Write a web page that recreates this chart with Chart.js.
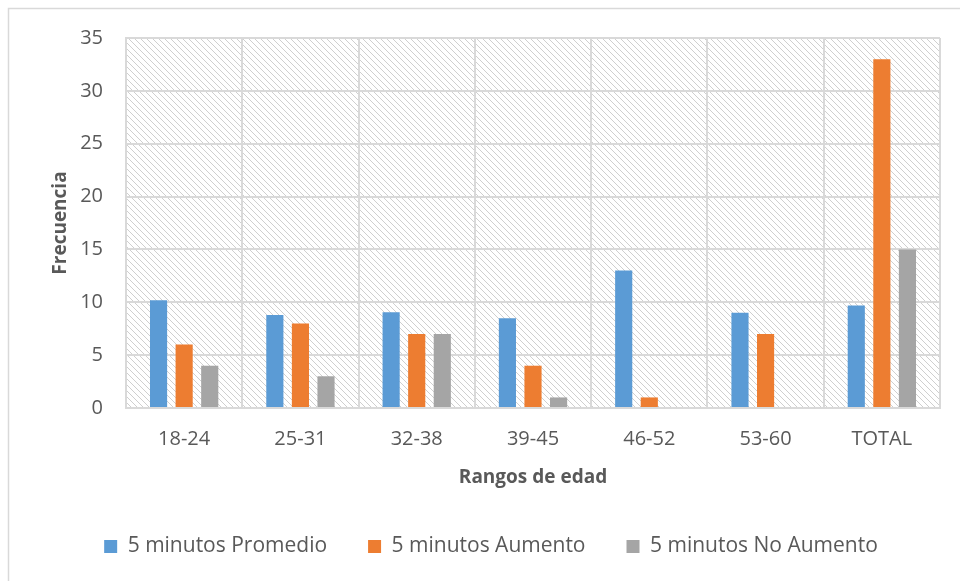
<!DOCTYPE html>
<html>
<head>
<meta charset="utf-8">
<script src="https://cdn.jsdelivr.net/npm/chart.js@4/dist/chart.umd.min.js"></script>
<style>
  html, body { margin: 0; padding: 0; background: #ffffff; }
  #wrap { width: 960px; height: 581px; position: relative; }
</style>
</head>
<body>
<div id="wrap"><canvas id="c" width="960" height="581"></canvas></div>
<script>
const categories = ['18-24', '25-31', '32-38', '39-45', '46-52', '53-60', 'TOTAL'];
const seriesNames = ['5 minutos Promedio', '5 minutos Aumento', '5 minutos No Aumento'];
const promedio = [10.2, 8.8, 9.05, 8.5, 13, 9, 9.7];
const aumento = [6, 8, 7, 4, 1, 7, 33];
const noAumento = [4, 3, 7, 1, 0, 0, 15];
const yTicks = [0, 5, 10, 15, 20, 25, 30, 35];
const xTitle = 'Rangos de edad';
const yTitle = 'Frecuencia';

const FONT = "'Open Sans', 'DejaVu Sans', sans-serif";
const TEXT = '#595959';
const GRID = '#d9d9d9';

function makePattern() {
  const t = document.createElement('canvas');
  t.width = 6; t.height = 6;
  const g = t.getContext('2d');
  g.fillStyle = '#ffffff';
  g.fillRect(0, 0, 6, 6);
  g.fillStyle = '#cfcfcf';
  for (let y = 0; y < 6; y++) {
    for (let x = 0; x < 6; x++) {
      const d = ((x - y) % 6 + 6) % 6;
      if (d === 0) g.fillRect(x, y, 1, 1);
    }
  }
  return document.getElementById('c').getContext('2d').createPattern(t, 'repeat');
}
const hatch = makePattern();

const bgPlugin = {
  id: 'bg',
  beforeLayout(chart) {
    const lg = chart.legend;
    if (lg && !lg._fixedH) {
      const f = lg.fit;
      lg.fit = function () { f.call(this); this.height = 86; };
      lg._fixedH = true;
    }
  },
  beforeDraw(chart) {
    const ctx = chart.ctx;
    const a = chart.chartArea;
    ctx.save();
    ctx.fillStyle = '#ffffff';
    ctx.fillRect(0, 0, chart.width, chart.height);
    ctx.strokeStyle = GRID;
    ctx.lineWidth = 1.5;
    ctx.strokeRect(8.5, 8.5, 2000, 2000);
    ctx.fillStyle = hatch;
    ctx.fillRect(a.left, a.top, a.right - a.left, a.bottom - a.top);
    ctx.restore();
  }
};

new Chart(document.getElementById('c'), {
  type: 'bar',
  data: {
    labels: categories,
    datasets: [
      { label: seriesNames[0], data: promedio, backgroundColor: '#5b9bd5' },
      { label: seriesNames[1], data: aumento, backgroundColor: '#ed7d31' },
      { label: seriesNames[2], data: noAumento, backgroundColor: '#a5a5a5' }
    ]
  },
  options: {
    responsive: false,
    animation: false,
    devicePixelRatio: 1,
    layout: { padding: { top: 38, right: 20, bottom: 0, left: 42 } },
    datasets: { bar: { categoryPercentage: 0.66, barPercentage: 0.67 } },
    scales: {
      x: {
        grid: { color: GRID, lineWidth: 2, drawTicks: false, offset: true },
        border: { color: GRID, width: 2 },
        ticks: { color: TEXT, font: { family: FONT, size: 20 }, padding: 19, maxRotation: 0 },
        title: { display: true, text: xTitle, color: TEXT, font: { family: FONT, size: 19, weight: 'bold' }, padding: { top: 0, bottom: 6 } },
        afterFit(s) { s.height = 87; }
      },
      y: {
        min: 0, max: 35,
        afterBuildTicks(s) { s.ticks = yTicks.map(v => ({ value: v })); },
        grid: { color: GRID, lineWidth: 2, drawTicks: false },
        border: { color: GRID, width: 2 },
        ticks: { color: TEXT, font: { family: FONT, size: 20 }, padding: 23 },
        title: { display: true, text: yTitle, color: TEXT, font: { family: FONT, size: 19, weight: 'bold' }, padding: { top: 7, bottom: 0 } },
        afterFit(s) { s.width = 84; }
      }
    },
    plugins: {
      legend: {
        position: 'bottom',
        labels: {
          color: TEXT,
          font: { family: FONT, size: 21 },
          boxWidth: 13, boxHeight: 13,
          padding: 41
        }
      },
      tooltip: { enabled: false }
    }
  },
  plugins: [bgPlugin]
});
</script>
</body>
</html>
